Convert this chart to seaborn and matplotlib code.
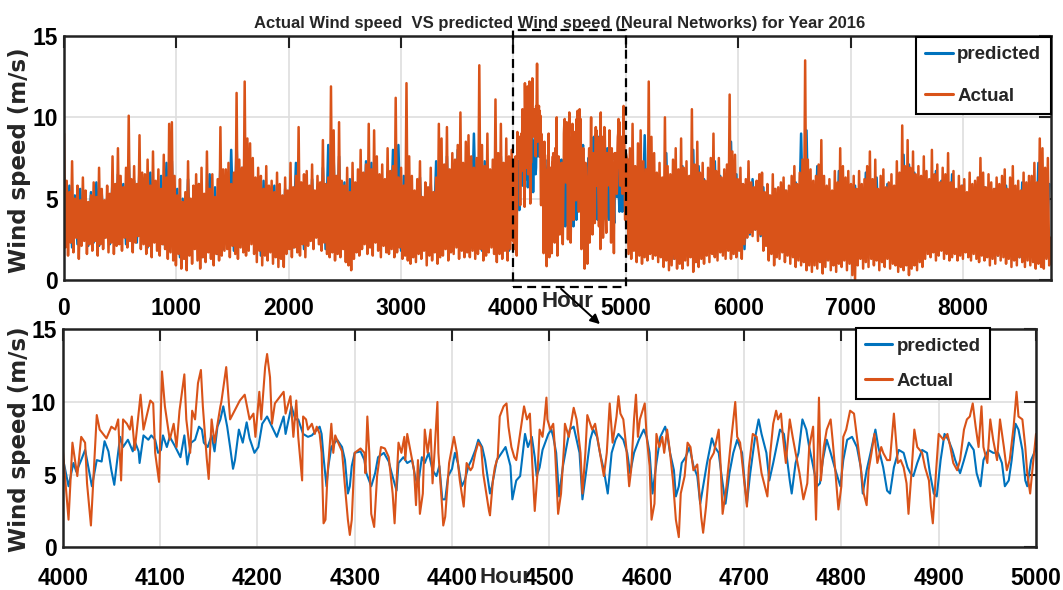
import numpy as np
import seaborn as sns
import matplotlib.pyplot as plt
import matplotlib.transforms as mtransforms
from matplotlib.patches import Rectangle, FancyArrowPatch

# MATLAB default line colours
BLUE = "#0072BD"
ORANGE = "#D95319"

# Zoomed window (hours 4000-5000): (hour offset from 4000, wind speed) vertices
actual_zoom = [
    (0, 6.8), (6, 1.9), (10, 7.2), (15, 4.9), (19, 7.6), (23, 7.2), (25, 4.4), (29, 1.5), (35, 9.1), (38, 8.1),
    (45, 7.5), (50, 8.3), (54, 8.1), (57, 8.8), (60, 4.6), (62, 8.8), (66, 8.5), (69, 8.1), (71, 9.0), (74, 6.7),
    (80, 10.5), (83, 8.1), (90, 10.1), (93, 9.9), (95, 6.5), (99, 4.5), (102, 12.1), (105, 9.7), (110, 7.4), (114, 8.5),
    (117, 6.9), (120, 9.4), (125, 11.9), (127, 8.8), (131, 6.5), (133, 9.4), (136, 8.8), (139, 11.3), (142, 12.2), (144, 9.7),
    (148, 6.1), (150, 4.7), (153, 8.8), (156, 7.2), (162, 9.7), (163, 10.0), (168, 12.4), (172, 8.8), (179, 9.7), (182, 10.1),
    (187, 10.5), (192, 8.8), (196, 9.2), (198, 7.6), (202, 10.7), (204, 8.8), (208, 12.4), (210, 13.3), (213, 11.7), (215, 8.5),
    (218, 9.9), (227, 10.7), (229, 9.2), (231, 9.7), (234, 10.4), (237, 7.6), (240, 10.1), (242, 7.6), (246, 4.6), (247, 9.0),
    (250, 8.8), (252, 8.1), (256, 8.5), (259, 7.8), (261, 8.3), (264, 7.8), (266, 6.5), (268, 1.65), (270, 1.9), (272, 4.9),
    (276, 8.5), (278, 6.5), (280, 7.7), (283, 7.2), (287, 6.6), (290, 4.2), (293, 1.9), (295, 0.85), (297, 1.9), (300, 6.5),
    (306, 6.8), (310, 6.5), (311, 5.1), (313, 9.0), (315, 6.5), (317, 2.3), (320, 1.4), (323, 4.9), (327, 6.9), (331, 6.8),
    (335, 6.2), (339, 3.7), (341, 1.65), (345, 7.2), (348, 6.5), (351, 7.6), (352, 6.0), (354, 7.8), (359, 6.0), (361, 5.3),
    (363, 2.9), (365, 6.0), (367, 2.3), (370, 3.7), (372, 8.1), (375, 6.5), (378, 8.1), (380, 4.4), (382, 6.5), (385, 10.0),
    (386, 6.5), (390, 2.6), (391, 1.5), (393, 2.1), (397, 5.8), (400, 6.9), (402, 7.6), (405, 6.5), (408, 4.6), (412, 2.8),
    (415, 5.8), (419, 5.3), (421, 5.5), (424, 6.5), (427, 7.2), (430, 6.9), (432, 5.1), (438, 2.5), (439, 2.2), (442, 4.6),
    (444, 5.5), (447, 6.2), (449, 9.0), (453, 9.7), (456, 9.9), (458, 8.3), (461, 6.9), (464, 6.2), (466, 6.0), (474, 9.7),
    (477, 8.8), (480, 9.2), (483, 5.0), (485, 2.5), (488, 5.3), (490, 8.1), (493, 7.6), (495, 8.8), (497, 10.3), (498, 8.8),
    (501, 8.1), (504, 8.5), (506, 6.5), (509, 2.3), (512, 3.7), (515, 6.9), (516, 8.5), (520, 7.6), (525, 9.6), (528, 8.8),
    (532, 6.5), (534, 3.7), (537, 6.5), (539, 9.1), (544, 8.1), (547, 8.5), (551, 6.9), (556, 4.9), (559, 6.5), (562, 9.9),
    (565, 7.2), (569, 9.0), (571, 10.4), (573, 9.2), (576, 8.8), (579, 6.9), (582, 4.2), (584, 5.3), (587, 8.8), (589, 10.5),
    (591, 7.6), (593, 8.8), (598, 9.9), (600, 7.6), (603, 5.6), (605, 1.9), (608, 3.0), (610, 7.8), (613, 6.9), (616, 7.6),
    (618, 6.5), (621, 8.1), (624, 6.5), (627, 4.6), (630, 1.9), (633, 0.7), (635, 3.7), (639, 4.9), (642, 7.2), (645, 6.9),
    (648, 5.3), (652, 5.7), (656, 2.1), (658, 1.0), (661, 2.8), (665, 6.0), (669, 6.5), (674, 8.1), (676, 5.6), (678, 2.3),
    (682, 4.2), (686, 6.9), (691, 10.0), (693, 7.6), (696, 7.2), (699, 5.3), (703, 2.8), (705, 5.5), (709, 7.8), (713, 7.6),
    (718, 5.1), (724, 3.5), (727, 6.5), (730, 8.5), (733, 9.4), (735, 8.8), (738, 9.2), (740, 7.6), (743, 5.8), (747, 8.8),
    (750, 7.6), (753, 6.5), (757, 5.1), (761, 3.3), (765, 4.4), (767, 6.9), (771, 8.3), (774, 1.9), (777, 10.3), (779, 4.6),
    (782, 6.9), (785, 8.1), (789, 8.8), (791, 7.4), (794, 5.1), (797, 2.6), (800, 4.2), (802, 7.6), (805, 8.1), (809, 9.4),
    (813, 9.2), (816, 7.6), (819, 6.0), (823, 3.7), (826, 2.9), (828, 5.3), (831, 6.5), (834, 7.8), (837, 5.8), (841, 6.9),
    (843, 6.5), (847, 6.0), (850, 6.0), (854, 9.2), (858, 5.8), (861, 6.0), (864, 5.5), (867, 4.4), (869, 2.3), (872, 5.1),
    (875, 8.1), (878, 6.9), (883, 6.5), (886, 5.5), (890, 4.6), (892, 2.8), (894, 1.65), (897, 4.9), (900, 7.8), (905, 7.4),
    (909, 7.8), (912, 6.9), (915, 5.8), (919, 5.3), (922, 6.0), (926, 8.1), (929, 8.8), (932, 9.0), (935, 9.9), (938, 8.3),
    (941, 6.9), (944, 9.7), (946, 6.9), (950, 5.8), (953, 8.8), (956, 7.4), (960, 6.0), (963, 8.8), (967, 6.9), (970, 5.3),
    (973, 6.0), (977, 8.3), (980, 10.7), (982, 9.0), (986, 8.8), (989, 6.9), (991, 5.1), (994, 3.7), (997, 5.8), (1000, 7.8),
]

predicted_zoom = [
    (0, 6.2), (6, 4.2), (11, 5.8), (14, 5.2), (19, 6.0), (23, 6.7), (25, 6.0), (30, 4.2), (35, 6.0), (40, 5.9),
    (43, 7.3), (47, 6.6), (50, 5.3), (53, 4.3), (56, 6.0), (59, 7.6), (62, 6.9), (67, 7.4), (72, 6.6), (74, 7.3),
    (78, 6.6), (79, 5.8), (83, 7.7), (88, 7.4), (91, 7.7), (95, 7.4), (98, 6.5), (101, 6.7), (103, 7.7), (107, 6.9),
    (110, 7.6), (115, 7.0), (121, 6.2), (125, 7.7), (128, 5.7), (132, 7.2), (136, 7.4), (140, 8.3), (143, 8.1), (145, 7.2),
    (149, 6.9), (153, 7.7), (156, 6.6), (159, 8.3), (162, 8.8), (165, 9.7), (169, 8.3), (172, 6.9), (175, 5.4), (177, 6.0),
    (181, 8.1), (185, 7.2), (189, 8.6), (192, 7.5), (197, 6.5), (201, 6.9), (205, 8.5), (210, 9.0), (215, 8.3), (220, 7.6),
    (227, 9.0), (229, 7.8), (235, 9.7), (239, 8.8), (242, 8.8), (247, 7.8), (252, 7.6), (256, 7.7), (264, 8.3), (266, 7.8),
    (268, 6.2), (271, 4.2), (273, 5.6), (276, 6.9), (282, 7.4), (287, 6.9), (290, 6.0), (293, 3.7), (295, 4.2), (297, 5.6),
    (300, 6.5), (306, 6.6), (310, 6.0), (312, 5.1), (317, 4.2), (321, 5.1), (324, 6.2), (330, 6.5), (335, 5.9), (338, 5.1),
    (343, 3.9), (345, 5.8), (350, 6.2), (354, 5.8), (359, 6.0), (362, 4.9), (365, 4.2), (369, 6.2), (372, 5.8), (376, 6.5),
    (380, 5.3), (384, 4.9), (387, 5.6), (390, 3.3), (393, 3.3), (396, 4.9), (400, 5.4), (403, 6.5), (406, 5.8), (410, 4.2),
    (413, 4.6), (417, 5.6), (420, 6.0), (424, 6.7), (427, 7.4), (431, 6.9), (434, 6.0), (437, 4.6), (439, 3.7), (441, 4.2),
    (446, 6.0), (451, 6.5), (455, 6.9), (460, 5.6), (462, 3.3), (466, 4.6), (470, 4.9), (475, 7.8), (478, 6.9), (482, 7.6),
    (485, 6.2), (487, 4.9), (490, 5.5), (493, 6.7), (499, 7.8), (502, 8.1), (504, 7.6), (507, 6.5), (510, 3.5), (514, 5.6),
    (517, 6.7), (521, 8.1), (525, 8.3), (528, 7.4), (531, 6.5), (534, 3.3), (538, 5.3), (542, 7.4), (545, 8.1), (549, 7.6),
    (552, 6.5), (556, 5.3), (560, 3.7), (564, 6.5), (568, 7.4), (571, 7.8), (576, 7.4), (580, 6.5), (583, 5.1), (587, 6.5),
    (592, 7.4), (597, 8.1), (600, 7.6), (603, 6.5), (606, 3.7), (610, 5.8), (614, 7.6), (619, 8.3), (621, 7.8), (624, 6.5),
    (628, 5.3), (630, 3.5), (633, 4.2), (636, 5.8), (640, 6.2), (644, 6.9), (648, 5.6), (652, 4.9), (655, 3.0), (658, 4.2),
    (662, 5.8), (667, 7.5), (670, 6.9), (674, 6.5), (677, 4.9), (681, 3.0), (685, 5.1), (689, 6.5), (693, 7.4), (698, 6.5),
    (701, 4.2), (703, 3.0), (706, 4.9), (711, 7.4), (715, 8.8), (718, 7.8), (723, 6.5), (726, 4.6), (730, 5.8), (734, 7.1),
    (737, 8.1), (741, 7.8), (744, 6.2), (747, 4.6), (749, 3.7), (753, 5.8), (756, 6.5), (760, 8.8), (764, 8.1), (767, 6.9),
    (771, 5.6), (775, 4.2), (778, 4.4), (781, 6.0), (785, 7.4), (789, 6.5), (794, 5.3), (799, 4.2), (802, 6.0), (806, 7.4),
    (811, 7.6), (816, 6.9), (820, 5.5), (822, 3.7), (826, 5.3), (830, 6.5), (835, 8.1), (838, 6.9), (843, 5.5), (847, 3.9),
    (850, 3.7), (854, 5.5), (859, 6.7), (864, 6.5), (868, 5.5), (871, 5.1), (874, 4.9), (878, 5.8), (883, 6.7), (888, 6.5),
    (891, 5.1), (895, 3.7), (898, 3.5), (902, 6.0), (906, 7.8), (910, 7.4), (914, 6.7), (917, 6.0), (922, 5.1), (926, 6.0),
    (931, 7.2), (936, 6.7), (939, 5.1), (943, 4.2), (946, 6.0), (951, 6.7), (956, 6.5), (961, 6.5), (965, 5.8), (968, 4.2),
    (972, 4.6), (975, 6.0), (979, 8.5), (982, 8.1), (986, 6.7), (989, 4.6), (991, 4.2), (995, 6.0), (1000, 6.8),
]

# Full year, outside the zoom window.
# Actual: alternating high / low readings every 12 h, hours 0 .. 3996
actual_year_a = [
    9.0, 2.0, 6.1, 1.5, 5.4, 2.3, 7.3, 1.7, 5.0, 2.6, 5.8, 1.3, 4.9, 2.1, 6.3, 2.4, 5.5, 1.6, 4.8, 2.2,
    5.2, 1.8, 6.0, 2.4, 5.1, 1.5, 6.9, 2.2, 5.6, 1.9, 4.9, 2.6, 5.8, 1.7, 5.3, 2.3, 7.6, 1.6, 5.9, 2.1,
    8.1, 2.2, 6.4, 1.8, 5.7, 2.6, 6.9, 2.0, 10.1, 2.4, 6.2, 1.7, 7.0, 2.3, 5.9, 2.7, 8.9, 1.9, 6.6, 2.2,
    6.5, 1.6, 7.4, 2.1, 5.8, 1.4, 7.9, 2.3, 6.1, 1.8, 6.8, 1.5, 5.6, 2.2, 7.7, 1.9, 6.3, 1.3, 9.6, 1.7,
    9.7, 1.2, 6.4, 0.9, 5.2, 1.6, 6.2, 0.7, 4.8, 1.3, 5.4, 0.6, 7.3, 1.5, 5.0, 1.0, 5.8, 1.9, 6.5, 1.2,
    5.9, 0.7, 6.9, 1.4, 5.3, 1.1, 7.9, 1.7, 5.6, 1.3, 6.5, 0.9, 5.1, 1.6, 6.2, 1.2, 9.4, 1.5, 6.8, 1.8,
    6.8, 1.9, 7.2, 1.4, 5.9, 2.1, 6.6, 1.6, 11.5, 1.3, 7.4, 2.0, 6.9, 1.7, 12.2, 1.5, 8.7, 1.8, 8.4, 2.2,
    7.5, 1.6, 6.3, 1.1, 6.9, 1.8, 6.4, 0.9, 5.6, 1.5, 7.0, 1.2, 5.8, 1.7, 6.1, 1.0, 5.4, 1.4, 6.6, 0.8,
    5.9, 1.3, 5.2, 0.8, 6.3, 1.6, 5.5, 1.9, 7.2, 1.4, 5.7, 2.0, 6.4, 1.7, 9.4, 1.5, 6.0, 2.2, 6.5, 1.4,
    6.7, 2.1, 5.8, 2.4, 7.1, 1.9, 5.5, 2.6, 6.4, 2.2, 6.0, 1.8, 8.6, 2.3, 5.9, 1.6, 6.3, 1.4, 11.9, 1.7,
    9.2, 1.2, 6.4, 1.6, 9.7, 1.4, 6.1, 1.9, 5.8, 1.1, 6.9, 0.9, 5.4, 0.6, 7.2, 1.3, 6.0, 1.7, 6.8, 1.5,
    8.0, 1.9, 6.6, 2.2, 7.1, 1.6, 9.6, 2.0, 6.8, 1.5, 9.2, 2.3, 7.6, 1.8, 6.5, 1.4, 7.1, 2.1, 6.2, 1.7,
    8.1, 1.6, 6.7, 1.9, 7.0, 1.4, 11.2, 1.7, 6.3, 2.0, 6.9, 1.3, 5.8, 1.5, 12.1, 1.2, 7.6, 1.0, 6.4, 1.4,
    5.5, 1.1, 6.2, 1.6, 7.3, 1.3, 5.1, 1.8, 6.0, 0.9, 5.7, 1.5, 6.9, 1.2, 5.4, 1.7, 6.3, 1.0, 9.6, 1.4,
    8.7, 1.5, 7.1, 1.9, 9.4, 1.2, 6.8, 1.7, 7.8, 1.6, 7.4, 2.0, 8.3, 1.3, 10.3, 1.8, 7.2, 1.4, 8.5, 1.7,
    8.9, 1.4, 7.6, 1.8, 6.9, 1.3, 7.5, 1.6, 13.2, 1.9, 8.3, 1.2, 7.0, 1.5, 9.0, 1.7, 6.8, 2.0, 7.4, 1.6,
    11.1, 1.1, 7.8, 1.6, 9.6, 1.3, 7.2, 1.8, 8.7, 1.2, 7.6, 1.9, 8.0, 2.4,
]
# Actual: hours 5012 .. 8780, every 12 h
actual_year_b = [
    7.4, 1.6, 8.1, 1.3, 9.6, 1.8, 7.0, 1.1, 8.4, 1.5, 9.2, 1.0, 7.3, 1.4, 6.8, 1.2, 12.2, 1.6, 8.8, 1.3,
    7.8, 1.5, 6.6, 1.1, 7.2, 1.4, 6.3, 0.8, 10.0, 1.2, 7.0, 0.6, 6.5, 0.9, 7.4, 1.3, 8.1, 0.7, 6.8, 1.0,
    8.7, 0.7, 6.9, 1.2, 7.3, 0.9, 6.4, 1.4, 10.5, 0.5, 7.1, 1.1, 8.5, 0.8, 6.6, 1.3, 7.2, 1.0, 6.1, 1.5,
    6.9, 1.1, 7.5, 1.6, 9.0, 1.4, 6.7, 1.2, 7.5, 1.7, 6.3, 1.5, 6.8, 1.3, 7.1, 1.8, 11.4, 1.3, 7.9, 1.6,
    7.7, 1.4, 6.2, 1.8, 6.9, 1.3, 5.9, 2.2, 6.2, 2.6, 7.3, 2.9, 6.0, 2.7, 5.7, 3.1, 6.1, 2.4, 6.5, 2.8,
    6.6, 1.8, 5.4, 2.1, 5.9, 1.2, 5.2, 1.6, 6.5, 0.9, 5.6, 1.4, 5.7, 1.3, 6.0, 1.7, 6.3, 1.1, 5.5, 1.5,
    5.8, 1.0, 6.4, 1.4, 7.0, 0.8, 5.9, 1.2, 6.6, 0.9, 7.4, 1.1, 13.5, 0.6, 7.4, 0.9, 6.8, 0.5, 6.1, 0.9,
    6.4, 0.7, 7.1, 1.1, 8.6, 0.4, 6.4, 0.8, 5.8, 1.2, 6.2, 0.6, 5.5, 0.9, 6.7, 0.5, 6.0, 1.0, 8.1, 0.8,
    7.0, 1.2, 6.3, 0.6, 6.7, 1.0, 5.9, 0.3, 6.4, 0.0, 5.6, 0.9, 6.7, 1.3, 5.9, 0.7, 6.2, 1.1, 7.0, 0.8,
    7.9, 1.3, 6.2, 0.9, 7.4, 1.2, 5.6, 0.6, 6.4, 1.1, 6.8, 0.8, 5.7, 1.3, 6.0, 0.7, 6.5, 1.0, 5.8, 0.9,
    7.3, 0.5, 6.6, 0.8, 9.5, 0.6, 7.0, 0.9, 8.6, 0.3, 6.9, 0.7, 7.9, 0.9, 6.5, 0.6, 7.0, 1.1, 6.4, 0.8,
    7.6, 1.3, 6.7, 1.6, 6.2, 1.4, 8.0, 1.7, 6.5, 1.2, 7.1, 1.5, 6.0, 1.8, 6.9, 1.3, 6.5, 1.6, 7.8, 1.2,
    6.0, 1.4, 6.7, 1.6, 5.6, 1.2, 6.4, 1.5, 5.8, 1.3, 6.2, 1.7, 5.4, 1.4, 6.6, 1.2, 5.9, 1.6, 6.1, 1.3,
    6.3, 1.1, 7.5, 1.5, 6.6, 1.2, 5.7, 1.4, 6.5, 0.9, 6.0, 1.3, 5.6, 1.0, 6.3, 1.5, 5.9, 1.2, 6.4, 1.4,
    6.8, 1.0, 5.6, 1.3, 6.3, 0.8, 7.0, 1.2, 5.8, 0.9, 6.1, 1.4, 5.5, 1.1, 6.6, 0.8, 6.0, 1.2, 6.4, 0.9,
    6.4, 1.1, 7.2, 0.7, 6.0, 1.0, 8.7, 0.8, 8.1, 0.7, 6.9, 1.3, 7.5, 0.9, 2.6,
]
# Predicted: alternating high / low readings every 24 h, hours 0 .. 3984 and 5024 .. 8768
predicted_year_a = [
    6.3, 2.4, 5.8, 2.0, 5.2, 2.2, 5.6, 2.5, 4.9, 2.1, 5.4, 2.3, 6.0, 2.1, 5.3, 2.6, 5.0, 2.2, 6.2, 2.4,
    6.5, 2.6, 5.9, 2.2, 7.4, 2.7, 6.1, 2.3, 6.9, 2.6, 6.3, 2.0, 6.6, 2.5, 5.9, 1.9, 6.4, 2.2, 7.2, 1.8,
    7.3, 1.7, 5.6, 1.4, 5.0, 1.3, 6.2, 1.6, 5.3, 2.1, 5.9, 1.4, 5.1, 1.8, 6.5, 2.0, 5.7, 1.6, 7.1, 1.9,
    5.9, 2.2, 8.0, 1.8, 8.4, 2.1, 6.9, 1.9, 6.8, 2.5, 6.3, 2.0, 5.7, 1.5, 6.1, 1.8, 5.4, 2.1, 5.8, 1.5,
    5.3, 1.5, 5.6, 2.3, 6.2, 2.0, 7.2, 2.4, 5.7, 1.9, 5.9, 2.5, 6.2, 2.8, 5.7, 2.2, 6.9, 1.9, 8.3, 2.1,
    7.4, 1.7, 7.6, 2.0, 6.0, 1.3, 6.2, 1.8, 5.9, 2.3, 6.7, 2.4, 7.3, 2.1, 7.2, 2.6, 6.4, 2.0, 6.1, 2.5,
    6.6, 2.1, 8.0, 2.4, 8.3, 1.8, 6.4, 1.6, 5.6, 1.9, 5.0, 1.7, 6.3, 2.0, 5.3, 1.6, 5.9, 1.9, 7.3, 1.6,
    7.1, 2.1, 7.6, 1.8, 6.6, 2.2, 8.0, 1.9, 7.0, 2.3, 7.2, 2.0, 9.0, 2.2, 6.9, 1.8, 7.3, 2.1, 6.3, 2.5,
    8.1, 1.7, 7.6, 1.9, 7.1, 1.8, 6.8,
]
predicted_year_b = [
    7.4, 1.9, 6.9, 1.7, 7.3, 1.6, 8.9, 2.0, 7.0, 1.8, 6.5, 2.1, 6.1, 1.7, 7.8, 1.5, 6.0, 1.3, 6.7, 1.6,
    7.0, 1.4, 6.2, 1.8, 8.0, 1.2, 7.0, 1.7, 6.2, 1.9, 6.0, 1.8, 7.3, 2.0, 6.4, 1.8, 5.9, 2.1, 8.5, 1.9,
    6.5, 2.0, 5.9, 1.9, 5.4, 2.8, 6.2, 3.1, 5.4, 2.7, 5.7, 2.3, 5.2, 1.8, 5.6, 1.6, 5.0, 1.9, 5.5, 1.7,
    5.1, 1.6, 6.0, 1.5, 9.0, 1.4, 9.2, 1.3, 5.9, 1.6, 7.0, 1.4, 5.6, 1.2, 5.1, 1.6, 5.4, 1.3, 6.7, 1.5,
    6.0, 1.8, 5.5, 0.9, 5.8, 1.6, 5.2, 1.4, 6.6, 1.9, 5.4, 1.6, 6.3, 1.9, 4.9, 1.3, 5.9, 1.7, 5.3, 1.5,
    6.2, 1.2, 7.7, 1.5, 7.1, 1.1, 6.6, 1.6, 6.0, 1.3, 6.4, 1.9, 5.8, 2.2, 6.7, 2.0, 6.1, 2.3, 5.7, 1.8,
    6.5, 2.0, 5.3, 2.2, 5.8, 1.8, 5.0, 2.1, 5.6, 1.9, 6.3, 1.7, 5.7, 2.1, 5.0, 1.8, 5.6, 1.5, 5.2, 2.0,
    5.8, 1.6, 4.9, 1.9, 5.5, 1.4, 6.0, 1.8, 5.3, 1.5, 5.6, 1.7, 7.2, 1.3, 6.8, 1.4, 5.9,
]

TITLE = "Actual Wind speed  VS predicted Wind speed (Neural Networks) for Year 2016"


def year_series(part_a, zoom, part_b, step, start_b):
    hours_a = step * np.arange(len(part_a))
    zh, zv = zip(*zoom)
    hours_b = start_b + step * np.arange(len(part_b))
    hours = np.concatenate([hours_a, 4000 + np.array(zh), hours_b])
    vals = np.concatenate([part_a, zv, part_b])
    return hours, vals


sns.set_theme(style="white")
plt.rcParams["font.family"] = ["Liberation Sans", "DejaVu Sans"]
plt.rcParams["font.weight"] = "bold"

W, H = 1063, 590
fig = plt.figure(figsize=(W / 100, H / 100), dpi=100)
ax1 = fig.add_axes([64 / W, 1 - 280 / H, 987 / W, 244 / H])
ax2 = fig.add_axes([62.7 / W, 1 - 547.3 / H, 973.3 / W, 218 / H])

# --- top: whole year
ph, pv = year_series(predicted_year_a, predicted_zoom, predicted_year_b, 24, 5024)
ah, av = year_series(actual_year_a, actual_zoom, actual_year_b, 12, 5012)
sns.lineplot(x=ph, y=pv, ax=ax1, color=BLUE, linewidth=1.8, estimator=None, sort=False, label="predicted")
sns.lineplot(x=ah, y=av, ax=ax1, color=ORANGE, linewidth=1.8, estimator=None, sort=False, label="Actual")
ax1.set_xlim(0, 8784)
ax1.set_xticks(np.arange(0, 8001, 1000))

# --- bottom: hours 4000-5000
zh, zv = zip(*predicted_zoom)
sns.lineplot(x=4000 + np.array(zh), y=zv, ax=ax2, color=BLUE, linewidth=1.5, estimator=None, sort=False,
             label="predicted")
zh, zv = zip(*actual_zoom)
sns.lineplot(x=4000 + np.array(zh), y=zv, ax=ax2, color=ORANGE, linewidth=1.5, estimator=None, sort=False,
             label="Actual")
ax2.set_xlim(4000, 5000)
ax2.set_xticks(np.arange(4000, 5001, 100))

for ax in (ax1, ax2):
    ax.set_ylim(0, 15)
    ax.set_yticks([0, 5, 10, 15])
    ax.grid(True, color="#dedede", linewidth=1.2)
    ax.set_axisbelow(True)
    for s in ax.spines.values():
        s.set_linewidth(1.8)
        s.set_color("#222222")
    ax.tick_params(direction="in", top=True, right=True, length=8.5, width=1.5, color="#222222",
                   labelsize=16.5, labelcolor="black")
    ax.tick_params(axis="y", pad=4.5)
    for lab in ax.get_xticklabels() + ax.get_yticklabels():
        lab.set_fontweight("bold")
    ax.set_xlabel("Hour", fontsize=16, fontweight="bold")
    ax.set_ylabel("Wind speed (m/s)", fontsize=16.5, fontweight="bold", family="DejaVu Sans")

ax1.tick_params(axis="x", pad=12)
ax2.tick_params(axis="x", pad=14.5)
ax1.xaxis.set_label_coords(0.51, -0.045)
ax2.xaxis.set_label_coords(0.455, -0.09)
ax1.yaxis.set_label_coords(-0.033, 0.49)
ax2.yaxis.set_label_coords(-0.033, 0.497)

legend_kw = dict(fontsize=13.5, frameon=True, fancybox=False, edgecolor="black", framealpha=1,
                 handlelength=1.45, handletextpad=0.25, borderpad=0.5, borderaxespad=0)
leg1 = ax1.legend(loc="upper right", bbox_to_anchor=(1050.7 / W, 1 - 36.7 / H),
                  bbox_transform=fig.transFigure, labelspacing=1.3, **legend_kw)
leg2 = ax2.legend(loc="upper left", bbox_to_anchor=(855.7 / W, 1 - 328.3 / H),
                  bbox_transform=fig.transFigure, labelspacing=0.95, **legend_kw)
for leg in (leg1, leg2):
    leg.get_frame().set_linewidth(1.5)
    for h in leg.legend_handles:
        h.set_linewidth(2.2)

# dashed box marking the zoomed window, and the arrow down to it
trans = mtransforms.blended_transform_factory(ax1.transData, ax1.transAxes)
ax1.add_patch(Rectangle((4000, -0.029), 1000, 1.054, transform=trans, fill=False, linestyle=(0, (4, 2.4)),
                        linewidth=1.6, edgecolor="black", clip_on=False, zorder=6))
fig.add_artist(FancyArrowPatch((559 / W, 1 - 287 / H), (602 / W, 1 - 326 / H), transform=fig.transFigure,
                               arrowstyle="-|>", mutation_scale=14, linewidth=1.4, color="black"))

fig.text(560 / W, 1 - 28 / H, TITLE, ha="center", va="baseline", fontsize=12, fontweight="bold")

fig.savefig("out.png", dpi=100)
